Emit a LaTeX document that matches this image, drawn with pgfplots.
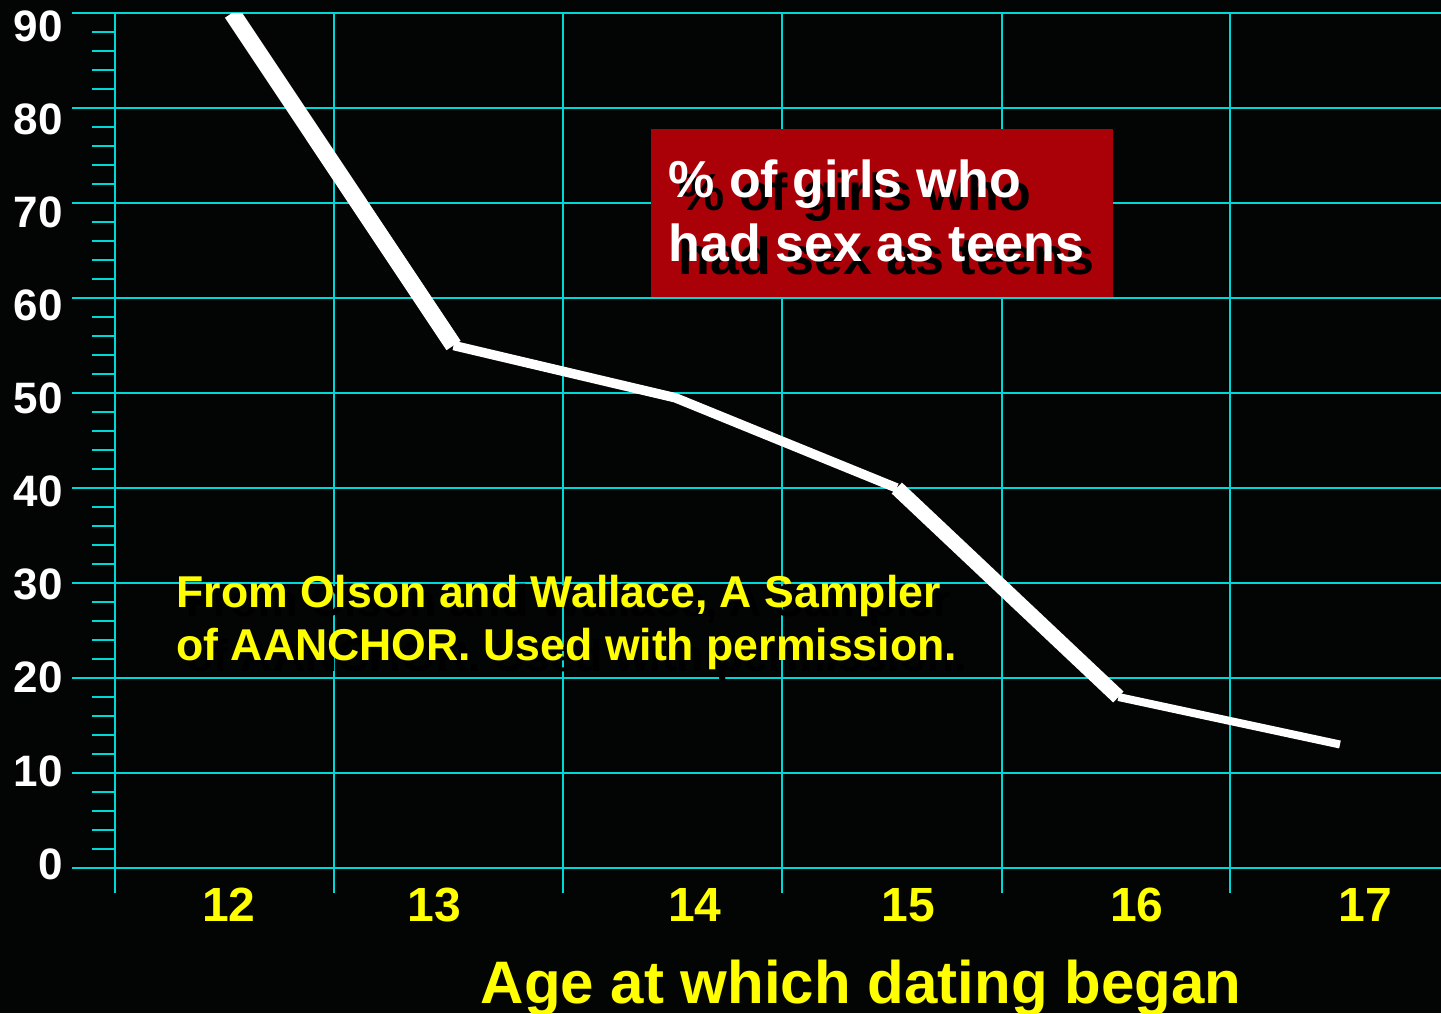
\documentclass[border=0pt]{standalone}
\usepackage{fontspec}
\setmainfont{Liberation Sans}
\usepackage{pgfplots}
\pgfplotsset{compat=1.18}
\definecolor{bg}{RGB}{3,5,5}
\definecolor{gridc}{RGB}{0,215,215}
\definecolor{boxred}{RGB}{170,0,8}
\definecolor{ylw}{RGB}{255,255,0}
\pgfplotsset{
  base/.style={scale only axis, width=663pt, height=427.5pt,
    xmin=11.472, xmax=17.456, ymin=0, ymax=90,
    /pgf/number format/assume math mode=true},
}
\begin{document}
\begin{tikzpicture}
\fill[bg] (-57.5pt,-72.5pt) rectangle (663pt,434pt);
% vertical grid lines and x tick labels
\begin{axis}[base,
  axis line style={draw=none},
  tick align=outside,
  ytick=\empty,
  xtick={11.986,12.912,14.089,15.051,16.084,17.113},
  xticklabels={12,13,14,15,16,17},
  minor xtick={11.472,12.460,13.494,14.482,15.475,16.504},
  xminorgrids=true,
  minor grid style={gridc, line width=0.8pt},
  major tick length=0pt,
  minor tick length=12.5pt,
  major tick style={draw=none},
  minor tick style={gridc, line width=0.8pt},
  xtick pos=left,
  xticklabel style={font=\bfseries\fontsize{24}{24}\selectfont, text=ylw,
    anchor=north, inner sep=0pt, yshift=-9.9pt},
]
\end{axis}
% horizontal grid, axes, y labels, data
\begin{axis}[base,
  axis lines=left,
  axis line style={-, gridc, line width=0.8pt},
  tick align=outside,
  xtick=\empty,
  ytick={0,10,20,30,40,50,60,70,80,90},
  yticklabels={,,,,,,,,,},
  minor y tick num=4,
  ymajorgrids=true,
  major grid style={gridc, line width=0.8pt},
  major tick length=21.5pt,
  minor tick length=11.5pt,
  tick style={gridc, line width=0.8pt},
  extra y ticks={0.42,10.22,20.02,29.82,39.62,49.43,59.23,69.03,78.83,88.63},
  extra y tick labels={0,10,20,30,40,50,60,70,80,90},
  extra y tick style={grid=none, tick style={draw=none}},
  yticklabel style={font=\bfseries\fontsize{22}{22}\selectfont, text=white,
    anchor=east, inner sep=0pt, xshift=-4.5pt},
]
\addplot[white, line width=8.5pt, line cap=butt] coordinates {(12,90) (13,55)};
\addplot[white, line width=4.75pt, line cap=butt] coordinates {(13,55) (14,49.5) (15,40)};
\addplot[white, line width=7.5pt, line cap=butt] coordinates {(15,40) (16,18)};
\addplot[white, line width=4pt, line cap=butt] coordinates {(16,18) (17,13)};
\end{axis}
% red annotation box
\fill[boxred] (268pt,285.5pt) rectangle (499pt,369.5pt);
\begin{scope}[every node/.style={anchor=base west, inner sep=0pt,
    font=\bfseries\fontsize{26}{31}\selectfont}]
\node[text=black] at (281.5pt,328.5pt) {\% of girls who};
\node[text=black] at (281.5pt,296.5pt) {had sex as teens};
\node[text=white] at (276.5pt,335pt) {\% of girls who};
\node[text=white] at (276.5pt,303pt) {had sex as teens};
\end{scope}
% source note
\begin{scope}[every node/.style={anchor=base west, inner sep=0pt,
    font=\bfseries\fontsize{22.3}{26}\selectfont}]
\node[text=black] at (35.5pt,125.5pt) {From Olson and Wallace, A Sampler};
\node[text=black] at (35.5pt,98.5pt) {of AANCHOR. Used with permission.};
\node[text=ylw] at (30.5pt,130.5pt) {From Olson and Wallace, A Sampler};
\node[text=ylw] at (30.5pt,103.5pt) {of AANCHOR. Used with permission.};
\end{scope}
% x axis title
\node[anchor=base, inner sep=0pt, text=ylw, font=\bfseries\fontsize{30}{34}\selectfont]
  at (373pt,-67.5pt) {Age at which dating began};
\pgfresetboundingbox
\path[use as bounding box] (-57.5pt,-72.5pt) rectangle (663pt,434pt);
\end{tikzpicture}
\end{document}
